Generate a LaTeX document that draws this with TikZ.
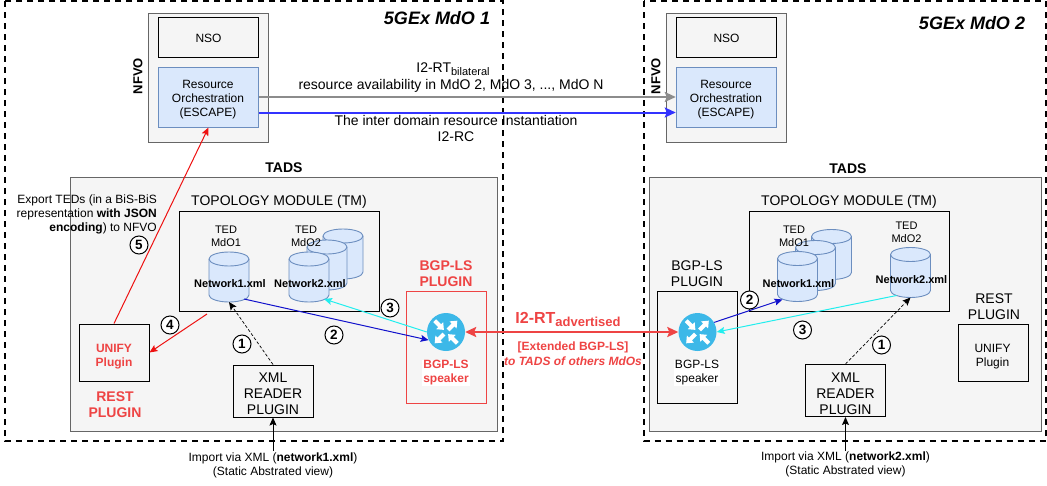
\documentclass[tikz,border=0pt]{standalone}
\usepackage{fontspec}
\setmainfont{Liberation Sans}
\usetikzlibrary{arrows.meta}
\usetikzlibrary{calc}
\definecolor{paneFill}{HTML}{F5F5F5}
\definecolor{paneLine}{HTML}{666666}
\definecolor{roFill}{HTML}{DAE8FC}
\definecolor{roLine}{HTML}{6C8EBF}
\definecolor{alertRed}{HTML}{EE4444}
\definecolor{routerBlue}{HTML}{3CB8E8}
\definecolor{linkRed}{HTML}{EE1111}
\definecolor{linkCyan}{HTML}{22EEEE}
\definecolor{linkNavy}{HTML}{1111CC}
\definecolor{linkBlue}{HTML}{3333FF}
\definecolor{linkGray}{HTML}{8C8C8C}
\newcommand{\fs}[1]{\fontsize{#1}{14}\selectfont}
\newcommand{\fsb}[1]{\fontsize{#1}{16}\selectfont}
\newcommand{\lowtext}[2]{\raisebox{-3pt}{\fs{#1}#2}}
\tikzset{
  >={Stealth[length=8pt,width=7pt,inset=1.5pt]},
  bigtip/.style={{Stealth[length=11pt,width=10pt,inset=2pt]}-{Stealth[length=11pt,width=10pt,inset=2pt]}},
  headtip/.style={-{Stealth[length=11pt,width=10pt,inset=2pt]}},
  domainbox/.style={draw=black,line width=2pt,dash pattern=on 6pt off 5pt},
  pane/.style={draw=paneLine,fill=paneFill,line width=.9pt},
  whitebox/.style={draw=black,line width=1pt,inner sep=0pt,align=center,font=\fs{12}},
  robox/.style={draw=roLine,fill=roFill,line width=1pt,inner sep=0pt,minimum width=100.5pt,minimum height=60pt},
  dbbody/.style={inner sep=0pt,outer sep=0pt,minimum width=40pt,minimum height=50pt},
  dbline/.style={draw=roLine,fill=roFill,line width=.9pt},
  caption/.style={align=center,inner sep=0pt,font=\fs{12}},
  tedcaption/.style={align=center,inner sep=0pt,font=\fontsize{11}{13}\selectfont},
  bigcaption/.style={align=center,inner sep=0pt,font=\fsb{14}},
  redcaption/.style={align=center,inner sep=0pt,font=\fsb{14}\bfseries,text=alertRed},
  number/.style={circle,draw=black,fill=white,line width=1pt,inner sep=0pt,minimum size=18pt,font=\fs{13.5}\bfseries},
  router/.style={circle,fill=routerBlue,inner sep=0pt,minimum size=38pt},
  link/.style={line width=1pt,->},
}
\begin{document}
\begin{tikzpicture}[x=1pt,y=-1pt]
  \useasboundingbox (0,0) rectangle (1047,485);
  % domains
  \draw[domainbox] (5,1) rectangle (503,441);
  \draw[domainbox] (643.5,1) rectangle (1045.5,441);
  \node[font=\fs{18}\bfseries\itshape,inner sep=0pt] (mdo1) at (437,18) {5GEx MdO 1};
  \node[font=\fs{18}\bfseries\itshape,inner sep=0pt] (mdo2) at (972,23) {5GEx MdO 2};

  % NFVO
  \draw[pane] (148,13) rectangle (268,142);
  \draw[pane] (666.5,13) rectangle (786,142);
  \node[rotate=90,font=\fs{13}\bfseries,inner sep=0pt] (nfvo1) at (138,76) {NFVO};
  \node[rotate=90,font=\fs{13}\bfseries,inner sep=0pt] (nfvo2) at (656,76) {NFVO};
  \node[whitebox,minimum width=100.5pt,minimum height=40pt] (nso1) at (208.5,37) {};
  \node[whitebox,minimum width=100.5pt,minimum height=40pt] (nso2) at (726.5,37) {};
  \node[caption] (nsotext1) at (208.5,38) {NSO};
  \node[caption] (nsotext2) at (726.5,38) {NSO};
  \node[robox] (ro1) at (208.5,97) {};
  \node[robox] (ro2) at (726.5,97) {};
  \node[caption] (rotext1) at (208,99.5) {Resource\\Orchestration\\(ESCAPE)};
  \node[caption] (rotext2) at (726,99.5) {Resource\\Orchestration\\(ESCAPE)};

  % TADS
  \draw[pane] (70,177) rectangle (497,431);
  \draw[pane] (649.5,177) rectangle (1041,431);
  \node[font=\fs{14}\bfseries,inner sep=0pt] (tads1) at (284,168) {TADS};
  \node[font=\fs{14}\bfseries,inner sep=0pt] (tads2) at (848,169) {TADS};
  \node[bigcaption] (tmlabel1) at (279,202) {TOPOLOGY MODULE (TM)};
  \node[bigcaption] (tmlabel2) at (849,202) {TOPOLOGY MODULE (TM)};
  \node[whitebox,minimum width=200pt,minimum height=100pt] (tm1) at (279.5,261) {};
  \node[whitebox,minimum width=200pt,minimum height=100pt] (tm2) at (849.5,261) {};

  % databases
  \foreach \dbname/\x/\y in {back1/343/254,mid1/327/265,net1/229/277,net2/309/277,
                             back2/831.5/254.5,mid2/815.5/265.5,net3/797.5/276.5,net4/910.5/272.5} {
    \node[dbbody] (\dbname) at (\x,\y) {};
    \draw[dbline,shift={(\dbname.center)}] (-20,-18) -- (-20,18)
      arc[start angle=180,end angle=0,x radius=20,y radius=7] -- (20,-18)
      arc[start angle=0,end angle=-180,x radius=20,y radius=7] -- cycle;
    \draw[dbline,fill=none,shift={(\dbname.center)}] (-20,-18)
      arc[start angle=180,end angle=0,x radius=20,y radius=7];
  }
  \node[tedcaption] (ted1) at (226,236.5) {TED\\MdO1};
  \node[tedcaption] (ted2) at (306,236.5) {TED\\MdO2};
  \node[tedcaption] (ted3) at (794,236.5) {TED\\MdO1};
  \node[tedcaption] (ted4) at (906.5,232.5) {TED\\MdO2};
  \node[caption,font=\fs{11}\bfseries] (xml1) at (230,284) {Network1.xml};
  \node[caption,font=\fs{11}\bfseries] (xml2) at (310,284) {Network2.xml};
  \node[caption,font=\fs{11}\bfseries] (xml3) at (798.5,284) {Network1.xml};
  \node[caption,font=\fs{11}\bfseries] (xml4) at (911.5,280) {Network2.xml};

  % plugins
  \node[whitebox,minimum width=70pt,minimum height=57pt] (unify1) at (114,352.5) {};
  \node[whitebox,minimum width=70pt,minimum height=57pt] (unify2) at (993.5,352.5) {};
  \node[caption,text=alertRed,font=\fs{12}\bfseries] (unifytext1) at (114,356.5) {UNIFY\\Plugin};
  \node[caption] (unifytext2) at (992.5,356.5) {UNIFY\\Plugin};
  \node[redcaption] (rest1) at (115,405) {REST\\PLUGIN};
  \node[bigcaption] (rest2) at (994,307) {REST\\PLUGIN};
  \node[whitebox,minimum width=80pt,minimum height=52pt] (reader1) at (273,391) {};
  \node[whitebox,minimum width=80pt,minimum height=52pt] (reader2) at (845.5,390.5) {};
  \node[bigcaption] (readertext1) at (273,394) {XML\\READER\\PLUGIN};
  \node[bigcaption] (readertext2) at (845.5,393.5) {XML\\READER\\PLUGIN};
  \node[draw=alertRed,line width=1pt,minimum width=80pt,minimum height=112pt] (bgp1) at (446,347) {};
  \node[draw=black,line width=1pt,minimum width=80pt,minimum height=112pt] (bgp2) at (697.5,347) {};
  \node[redcaption] (bgplabel1) at (446,273.5) {BGP-LS\\PLUGIN};
  \node[bigcaption] (bgplabel2) at (697,273.5) {BGP-LS\\PLUGIN};
  \node[caption,fill=white,text=alertRed,font=\fs{12}\bfseries,inner sep=1pt] (speaker1) at (446,373) {BGP-LS\\speaker};
  \node[caption,fill=white,inner sep=1pt] (speaker2) at (697,373) {BGP-LS\\speaker};

  % routers
  \node[router] (router1) at (446,332) {};
  \node[router] (router2) at (697.5,332) {};
  \foreach \r in {router1,router2}
    \foreach \a/\b/\n/\t in {45/3/10/16,225/3/10/16,135/16/9/3,315/16/9/3}
      \fill[white,shift={(\r)},rotate=\a]
        (\b,-2) -- (\n,-2) -- (\n,-5) -- (\t,0) -- (\n,5) -- (\n,2) -- (\b,2) -- cycle;

  % free ends
  \coordinate (impsrc1) at (273,451);
  \coordinate (impsrc2) at (845.5,451);
  \coordinate (tmfoot) at (207,314);

  % links
  \draw[line width=2pt,draw=linkGray,headtip] (ro1.east) -- (ro2.west);
  \draw[line width=2pt,draw=linkBlue,headtip] ($(ro1.east)+(0,15.5)$) -- ($(ro2.west)+(0,15.5)$);
  \draw[line width=2pt,draw=alertRed,bigtip] (router1) -- (router2);
  \draw[link,draw=linkRed] (unify1.north) -- (ro1.south);
  \draw[link,draw=linkRed] (tmfoot) -- (unify1.east);
  \draw[link,densely dashed,line width=.7pt] (reader1.north) -- (net1.south);
  \draw[link,densely dashed,line width=.7pt] (reader2.north) -- (net4.south);
  \draw[link] (impsrc1) -- (reader1.south);
  \draw[link] (impsrc2) -- (reader2.south);
  \draw[link,draw=linkNavy] ($(net1.south)+(15,-3)$) -- (router1.205);
  \draw[link,draw=linkCyan] (router1.west) -- ($(net2.south)+(15,-3)$);
  \draw[link,draw=linkNavy] (router2.30) -- ($(net3.south)+(-15,-2)$);
  \draw[link,draw=linkCyan] ($(net4.south)+(-14,-2)$) -- (router2.east);

  % numbers
  \node[number] (n5) at (139,245) {5};
  \node[number] (n4) at (170,325) {4};
  \node[number] (n1) at (242,344) {1};
  \node[number] (n2) at (334,335) {2};
  \node[number] (n3) at (390,308) {3};
  \node[number] (m2) at (749.5,300) {2};
  \node[number] (m3) at (802.5,330) {3};
  \node[number] (m1) at (881.5,345) {1};

  % labels
  \node[caption,font=\fs{14}] (bilateral) at (453,69) {I2-RT\lowtext{11}{bilateral}};
  \node[caption,font=\fs{14}] (avail) at (451,85.5) {resource availability in MdO 2, MdO 3, ..., MdO N};
  \node[caption,font=\fs{14}] (inst) at (456,120.5) {The inter domain resource Instantiation};
  \node[caption,font=\fs{14}] (rc) at (456,137) {I2-RC};
  \node[caption,align=right,anchor=east] (export) at (157,214)
    {Export TEDs (in a BiS-BiS\\representation \textbf{with JSON}\\\textbf{encoding}) to NFVO};
  \node[caption,text=alertRed,font=\fs{16}\bfseries] (advert) at (568,319) {I2-RT\lowtext{13}{advertised}};
  \node[caption,text=alertRed,font=\fs{12}\bfseries] (ext) at (573,347) {[Extended BGP-LS]};
  \node[caption,text=alertRed,font=\fs{12}\bfseries\itshape] (toothers) at (573,361) {to TADS of others MdOs};
  \node[caption] (import1) at (273,465) {Import via XML (\textbf{network1.xml})\\(Static Abstrated view)};
  \node[caption] (import2) at (845.5,464.5) {Import via XML (\textbf{network2.xml})\\(Static Abstrated view)};
\end{tikzpicture}
\end{document}
